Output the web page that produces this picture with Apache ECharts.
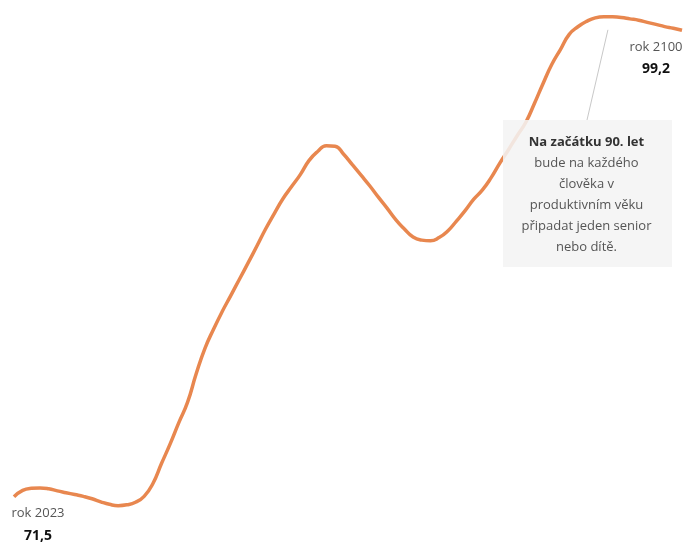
<!DOCTYPE html>
<html>
<head>
<meta charset="utf-8">
<script src="https://cdn.jsdelivr.net/npm/echarts@6/dist/echarts.min.js"></script>
<style>
html,body{margin:0;padding:0;background:#fff;}
#c{width:686px;height:545px;}
</style>
</head>
<body>
<div id="c"></div>
<script>
const years = [];
for (let y = 2023; y <= 2100; y++) years.push(String(y));
const values = [
  71.5, 71.88, 72.0, 72.02, 71.97, 71.85, 71.74, 71.63, 71.52, 71.38,
  71.2, 71.05, 70.97, 71.02, 71.17, 71.52, 72.27, 73.47, 74.64, 75.9,
  77.1, 78.8, 80.3, 81.45, 82.5, 83.46, 84.43, 85.4, 86.39, 87.4,
  88.32, 89.2, 89.92, 90.63, 91.46, 92.0, 92.35, 92.32, 91.84, 91.22,
  90.6, 89.97, 89.29, 88.64, 87.96, 87.4, 86.92, 86.74, 86.7, 86.89,
  87.28, 87.87, 88.49, 89.17, 89.72, 90.45, 91.31, 92.11, 92.94, 93.74,
  94.87, 96.06, 97.18, 98.07, 98.96, 99.41, 99.73, 99.94, 100.01, 100.0,
  99.96, 99.88, 99.8, 99.67, 99.55, 99.42, 99.32, 99.2
];
const startLabel = ['rok 2023', '71,5'];
const endLabel = ['rok 2100', '99,2'];
const noteTitle = 'Na začátku 90. let';
const noteLines = ['bude na každého', 'člověka v', 'produktivním věku', 'připadat jeden senior', 'nebo dítě.'];

const chart = echarts.init(document.getElementById('c'));
const FONT = '"Open Sans", sans-serif';
chart.setOption({
  animation: false,
  backgroundColor: '#ffffff',
  grid: { left: 14, right: 4, top: 0, bottom: 23 },
  xAxis: { type: 'category', data: years, boundaryGap: false, show: false },
  yAxis: { type: 'value', min: 70, max: 101, show: false },
  series: [{
    type: 'line',
    data: values,
    smooth: 0.5,
    showSymbol: false,
    lineStyle: { color: '#e8874f', width: 3.5 },
    z: 2
  }]
});

const p0 = chart.convertToPixel({ gridIndex: 0 }, [0, values[0]]);
const pN = chart.convertToPixel({ gridIndex: 0 }, [years.length - 1, values[values.length - 1]]);
const peak = chart.convertToPixel({ gridIndex: 0 }, [68, 100]);

const boxL = 503, boxT = 120, boxW = 169, boxH = 147;
const cx = boxL + boxW / 2 - 1;
const graphics = [
  { type: 'line', shape: { x1: peak[0] + 4, y1: peak[1] + 13, x2: 587, y2: boxT }, style: { stroke: '#c8c8c8', lineWidth: 1 }, z: 5 },
  { type: 'rect', shape: { x: boxL, y: boxT, width: boxW, height: boxH }, style: { fill: 'rgba(244,244,244,0.87)' }, z: 10 },
  { type: 'text', x: cx, y: 142, style: { text: noteTitle, font: 'bold 13px ' + FONT, fill: '#333', align: 'center', verticalAlign: 'middle' }, z: 11 },
  { type: 'text', x: p0[0] + 24, y: 513, style: { text: startLabel[0], font: '13px ' + FONT, fill: '#555', align: 'center', verticalAlign: 'middle' }, z: 11 },
  { type: 'text', x: p0[0] + 24, y: 536, style: { text: startLabel[1], font: 'bold 14px ' + FONT, fill: '#111', align: 'center', verticalAlign: 'middle' }, z: 11 },
  { type: 'text', x: pN[0] - 26, y: 47, style: { text: endLabel[0], font: '13px ' + FONT, fill: '#555', align: 'center', verticalAlign: 'middle' }, z: 11 },
  { type: 'text', x: pN[0] - 26, y: 69, style: { text: endLabel[1], font: 'bold 14px ' + FONT, fill: '#111', align: 'center', verticalAlign: 'middle' }, z: 11 }
];
noteLines.forEach((t, i) => {
  graphics.push({ type: 'text', x: cx, y: 163 + i * 21, style: { text: t, font: '13px ' + FONT, fill: '#555', align: 'center', verticalAlign: 'middle' }, z: 11 });
});
chart.setOption({ graphic: graphics });
</script>
</body>
</html>
